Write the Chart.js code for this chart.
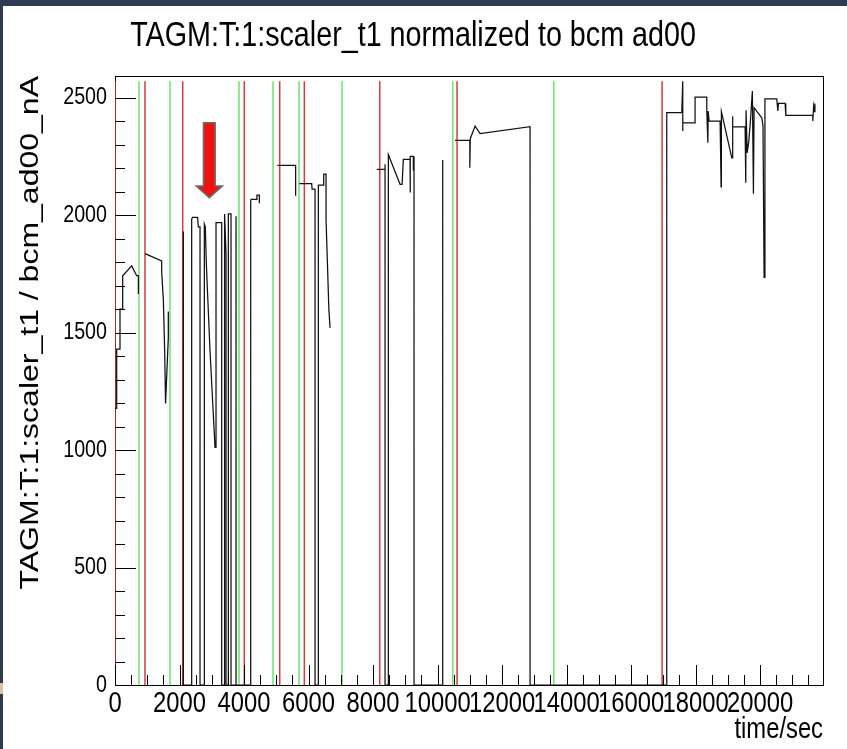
<!DOCTYPE html>
<html><head><meta charset="utf-8">
<script src="https://cdn.jsdelivr.net/npm/chart.js@4.4.1/dist/chart.umd.min.js"></script>
<style>
html,body{margin:0;padding:0;background:#2d3a50;width:847px;height:749px;overflow:hidden}
#wrap{position:absolute;left:3px;top:6px;width:844px;height:743px;background:#fff}
#patch{position:absolute;left:0;top:683px;width:3px;height:11px;background:#d9c2a7}
</style></head><body>
<div id="patch"></div>
<div id="wrap"><canvas id="c" width="844" height="743"></canvas></div>
<script>
// ---- data (time in seconds, normalized rate) ; null rate = break between runs
const timeSec = [
  15,52,52,155,155,238,238,517,672,725,725, 800,
  930,1447,1447,1500,1540,1567,1653,1653, 1900,
  2119,2119,2377,2377,2400,2560,2584,2636,2636,2770,2770,2800,2830,2862,2946,3030,3101,3132,3132,3308,3308,
  3390,3390,3405,3442,3442,3514,3514,3597,3597,3752,3752,3752,4207,4207,4220,4393,4400,4475,4475, 4800,
  5033,5600,5600, 5650,
  5715,6098,6110,6202,6202,6305,6305,6460,6470,6543,6543,6580,6630,6667, 7000,
  8114,8372,8372,8372,8475,8475,8837,8900,8940,9147,9147,9160,9250,9250,9271,9271,10160,10160, 10300,
  10543,11000,11000,11015,11163,11318,12868,12868,
  17106,17106,17571,17602,17602,17602,17984,17984,18347,18347,18380,18390,18420,18760,18791,18800,19122,19150,19150,19150,19535,
  19555,19565,19600,19650,19700,19760,19793,19814,20052,20090,20124,20150,20517,20550,20568,20775,20797,21633,21633,21660,21690,21700
];
const rate = [
  1177,1177,1430,1430,1600,1600,1742,1784,1742,1742,1664, null,
  1836,1805,1760,1636,1423,1198,1478,1590, null,
  1930,0,0,1982,1990,1990,1950,1950,0,0,1962,1950,1800,1692,1423,1200,1011,1011,1968,1968,0,
  0,2005,2005,1837,0,0,2005,2005,0,0,1995,0,0,2060,2067,2067,2085,2085,2050, null,
  2212,2212,2082, null,
  2134,2134,2110,2110,0,0,2128,2128,2174,2174,1980,1820,1600,1520, null,
  2195,2195,2216,0,0,2258,2131,2131,2237,2237,2096,2250,2250,2190,2250,0,0,2234, null,
  2318,2318,2202,2325,2379,2347,2376,0,
  0,2436,2436,2570,2358,2393,2393,2502,2502,2443,2308,2443,2400,2400,2120,2440,2244,2244,2421,2376,2376,
  2138,2446,2265,2315,2400,2528,2091,2457,2414,2380,1735,2495,2495,2443,2475,2475,2424,2424,2400,2465,2440,2475
];
const runStartTimes = [0, 930, 2099, 4009, 5107, 5870, 8208, 10605, 16961];   // red lines
const runEndTimes   = [744, 1705, 3845, 4899, 5705, 7039, 10471, 13603];      // green lines
const markerTop = 2570;
const xTickValues = [0,2000,4000,6000,8000,10000,12000,14000,16000,18000,20000];
const yTickValues = [0,500,1000,1500,2000,2500];
const xMinorStep = 500, yMinorStep = 100;
const xMax = 21950, yMax = 2592;
// annotation arrow (data coordinates)
const arrowX = [2744,3104,3104,3327,2924,2521,2744];
const arrowY = [2393,2393,2124,2124,2074,2124,2124];

const FONT = "'Liberation Sans',Arial,sans-serif";
const textSqueeze = 0.82;   // the reference text is horizontally condensed

function vlines(xs){const p=[];xs.forEach(x=>{p.push({x:x,y:0},{x:x,y:markerTop},{x:x,y:null});});return p;}
const series = timeSec.map((t,i)=>({x:t,y:rate[i]}));

const squeezePlugin = {
  id:'squeeze',
  beforeInit(chart){
    const ctx = chart.ctx;
    const orig = ctx.fillText.bind(ctx);
    ctx.fillText = function(t,x,y,mw){
      const m = ctx.getTransform();
      ctx.save(); ctx.translate(x,y);
      if (Math.abs(m.b) > 1e-6) ctx.scale(1,textSqueeze); else ctx.scale(textSqueeze,1);
      if (mw === undefined) orig(t,0,0); else orig(t,0,0,mw/textSqueeze);
      ctx.restore();
    };
  }
};

const framePlugin = {
  id:'frame',
  beforeDatasetsDraw(chart){
    const {ctx, chartArea:a} = chart;
    ctx.save(); ctx.strokeStyle='#000'; ctx.lineWidth=1;
    ctx.strokeRect(Math.round(a.left)+0.5, Math.round(a.top)+0.5, Math.round(a.right-a.left), Math.round(a.bottom-a.top));
    ctx.restore();
  },
  afterDatasetsDraw(chart){
    const {ctx, chartArea:a, scales:{x,y}} = chart;
    ctx.save(); ctx.strokeStyle='#000'; ctx.lineWidth=1; ctx.beginPath();
    for(let v=0; v<=xMax; v+=xMinorStep){
      const px=Math.round(x.getPixelForValue(v))+0.5;
      const len = xTickValues.includes(v)?20:10;
      ctx.moveTo(px,a.bottom); ctx.lineTo(px,a.bottom-len);
    }
    for(let v=0; v<=yMax; v+=yMinorStep){
      const py=Math.round(y.getPixelForValue(v))+0.5;
      const len = yTickValues.includes(v)?21:10;
      ctx.moveTo(a.left,py); ctx.lineTo(a.left+len,py);
    }
    ctx.stroke();
    // annotation arrow
    ctx.beginPath();
    arrowX.forEach((vx,i)=>{const px=x.getPixelForValue(vx), py=y.getPixelForValue(arrowY[i]); if(i===0)ctx.moveTo(px,py); else ctx.lineTo(px,py);});
    ctx.closePath();
    ctx.fillStyle='#f01010'; ctx.fill();
    ctx.strokeStyle='#6b6b6b'; ctx.lineWidth=1.6; ctx.stroke();
    ctx.restore();
  }
};

new Chart(document.getElementById('c'), {
  type:'line',
  data:{datasets:[
    {data:series, borderColor:'#111', borderWidth:1.25, pointRadius:0, tension:0, spanGaps:false},
    {data:vlines(runStartTimes), borderColor:'#d43c3c', borderWidth:1.5, pointRadius:0, tension:0, spanGaps:false},
    {data:vlines(runEndTimes), borderColor:'#70e070', borderWidth:1.5, pointRadius:0, tension:0, spanGaps:false}
  ]},
  options:{
    responsive:false, animation:false, devicePixelRatio:1,
    layout:{padding:{left:0,right:24,top:0,bottom:0}},
    plugins:{legend:{display:false}, tooltip:{enabled:false},
      title:{display:true, text:'TAGM:T:1:scaler_t1 normalized to bcm ad00', color:'#000',
             font:{family:FONT,size:35,weight:'normal'}, padding:{top:9,bottom:19}}},
    scales:{
      x:{type:'linear', min:0, max:xMax,
         afterBuildTicks:s=>{s.ticks=xTickValues.map(v=>({value:v}));},
         afterFit:s=>{s.height=64;},
         grid:{display:false,drawTicks:false}, border:{display:false},
         ticks:{color:'#000', font:{family:FONT,size:29}, padding:2, maxRotation:0, minRotation:0, autoSkip:false, callback:v=>String(v)},
         title:{display:true, text:'time/sec', align:'end', color:'#000', font:{family:FONT,size:29}, padding:{top:0,bottom:2}}},
      y:{type:'linear', min:0, max:yMax,
         afterBuildTicks:s=>{s.ticks=yTickValues.map(v=>({value:v}));},
         afterFit:s=>{s.width=112;},
         grid:{display:false,drawTicks:false}, border:{display:false},
         ticks:{color:'#000', font:{family:FONT,size:24}, padding:8, callback:v=>String(v)},
         title:{display:true, text:'TAGM:T:1:scaler_t1 / bcm_ad00_nA', align:'end', color:'#000', font:{family:FONT,size:32}, padding:{top:9,bottom:0}}}
    }
  },
  plugins:[squeezePlugin, framePlugin]
});
</script>
</body></html>
